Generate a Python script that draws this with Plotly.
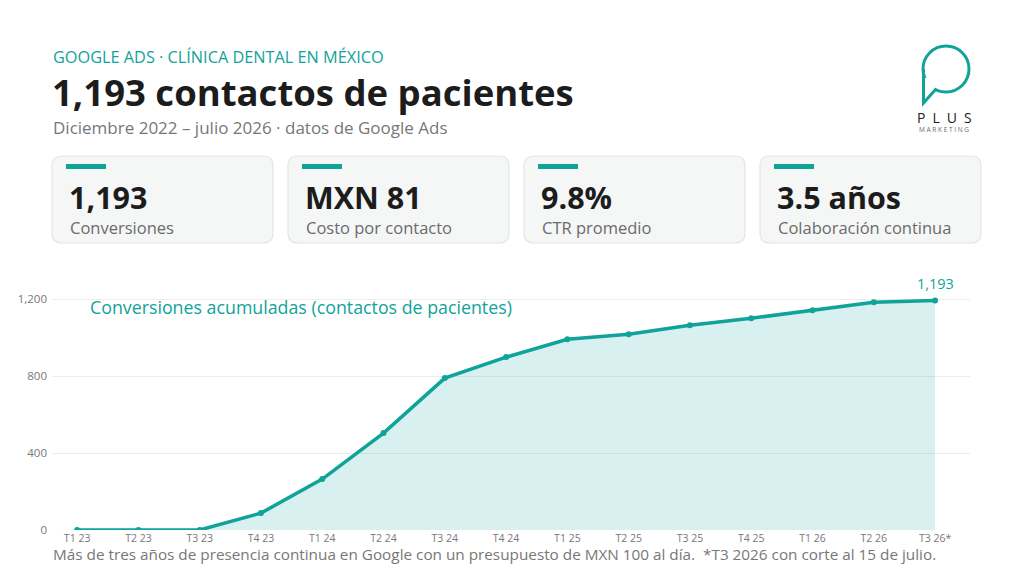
import plotly.graph_objects as go

# Cumulative conversions per quarter
quarters = ["T1 23", "T2 23", "T3 23", "T4 23", "T1 24", "T2 24", "T3 24", "T4 24",
            "T1 25", "T2 25", "T3 25", "T4 25", "T1 26", "T2 26", "T3 26*"]
conversions = [0, 0, 0, 88, 265, 504, 790, 899, 992, 1018, 1065, 1101, 1143, 1184, 1193]
y_ticks = [0, 400, 800, 1200]

kpi_values = ["1,193", "MXN 81", "9.8%", "3.5 años"]
kpi_labels = ["Conversiones", "Costo por contacto", "CTR promedio", "Colaboración continua"]

TEAL = "#0fa39a"
DARK = "#1c1c1c"
GREY = "#6b6b6b"
FONT = "Open Sans"

W, H = 1024, 578
ML, MR, MT, MB = 52, 54, 280, 48
PW = W - ML - MR
PH = H - MT - MB


def px(x):
    return (x - ML) / PW


def py(y):
    return (H - MB - y) / PH


def rounded_rect(x0, y0, x1, y1, r):
    pts = [
        f"M {px(x0 + r)} {py(y0)}",
        f"L {px(x1 - r)} {py(y0)}",
        f"Q {px(x1)} {py(y0)} {px(x1)} {py(y0 + r)}",
        f"L {px(x1)} {py(y1 - r)}",
        f"Q {px(x1)} {py(y1)} {px(x1 - r)} {py(y1)}",
        f"L {px(x0 + r)} {py(y1)}",
        f"Q {px(x0)} {py(y1)} {px(x0)} {py(y1 - r)}",
        f"L {px(x0)} {py(y0 + r)}",
        f"Q {px(x0)} {py(y0)} {px(x0 + r)} {py(y0)}",
        "Z",
    ]
    return " ".join(pts)


def text_at(x, y, text, size, color, anchor="left"):
    return dict(xref="paper", yref="paper", x=px(x), y=py(y), text=text,
                showarrow=False, xanchor=anchor, yanchor="middle",
                font=dict(family=FONT, size=size, color=color))


fig = go.Figure()

fig.add_trace(go.Scatter(
    x=quarters, y=conversions,
    mode="lines+markers",
    line=dict(color=TEAL, width=3.5),
    marker=dict(color=TEAL, size=6),
    fill="tozeroy",
    fillcolor="rgba(15,163,154,0.16)",
    hoverinfo="skip",
    showlegend=False,
))

shapes = []
annotations = []

# KPI cards
card_x = [52, 288, 524, 760]
for i, x0 in enumerate(card_x):
    shapes.append(dict(type="path", xref="paper", yref="paper",
                       path=rounded_rect(x0, 156, x0 + 221, 243, 10),
                       fillcolor="#f5f6f6", line=dict(color="#e4e6e6", width=1.2),
                       layer="below"))
    shapes.append(dict(type="rect", xref="paper", yref="paper",
                       x0=px(x0 + 14), x1=px(x0 + 54), y0=py(169), y1=py(164),
                       fillcolor=TEAL, line=dict(width=0)))
    annotations.append(text_at(x0 + 15, 197, f"<b>{kpi_values[i]}</b>", 30.5, DARK))
    annotations.append(text_at(x0 + 16, 227, kpi_labels[i], 16.5, GREY))

# Header
annotations.append(text_at(51, 57, "GOOGLE ADS · CLÍNICA DENTAL EN MÉXICO", 16.3, TEAL))
annotations.append(text_at(50, 92, "<b>1,193 contactos de pacientes</b>", 36.5, DARK))
annotations.append(text_at(51, 128, "Diciembre 2022 – julio 2026 · datos de Google Ads", 17, "#777777"))

# Logo
shapes.append(dict(type="circle", xref="paper", yref="paper",
                   x0=px(923), x1=px(969), y0=py(92), y1=py(46),
                   line=dict(color=TEAL, width=3)))
shapes.append(dict(type="rect", xref="paper", yref="paper",
                   x0=px(921), x1=px(935), y0=py(95), y1=py(78),
                   fillcolor="white", line=dict(width=0)))
shapes.append(dict(type="path", xref="paper", yref="paper",
                   path=f"M {px(923.5)} {py(69)} L {px(923.5)} {py(103)} L {px(936)} {py(89)}",
                   line=dict(color=TEAL, width=3)))
annotations.append(text_at(944, 117, "P\u2002L\u2002U\u2002S", 14, DARK, "center"))
annotations.append(text_at(944, 130, "M A R K E T I N G", 6.5, GREY, "center"))

# Chart labels
annotations.append(text_at(88, 307, "Conversiones acumuladas (contactos de pacientes)", 17.8, TEAL))
annotations.append(dict(x=quarters[-1], y=conversions[-1], xref="x", yref="y",
                        text=f"{conversions[-1]:,}", showarrow=False,
                        xanchor="center", yanchor="bottom", yshift=6,
                        font=dict(family=FONT, size=14.5, color=TEAL)))
annotations.append(text_at(51, 554,
                           "Más de tres años de presencia continua en Google con un presupuesto de MXN 100 al día.  *T3 2026 con corte al 15 de julio.",
                           15.3, "#777777"))

fig.update_layout(
    width=W, height=H,
    margin=dict(l=ML, r=MR, t=MT, b=MB),
    paper_bgcolor="white", plot_bgcolor="white",
    font=dict(family=FONT, color=GREY),
    shapes=shapes, annotations=annotations,
    xaxis=dict(range=[-0.41, 14.57], showgrid=False, zeroline=False, showline=False,
               ticks="", tickfont=dict(size=10.5, color="#777777"), ticklabelstandoff=0),
    yaxis=dict(range=[0, 1300], tickvals=y_ticks, tickformat=",", showgrid=True,
               gridcolor="#ececec", gridwidth=1, zeroline=False, showline=False,
               ticks="", tickfont=dict(size=11.5, color="#777777"), ticklabelstandoff=4),
)

fig.write_html("out.html", config={"displayModeBar": False},
               post_script="document.body.style.margin='0';")
